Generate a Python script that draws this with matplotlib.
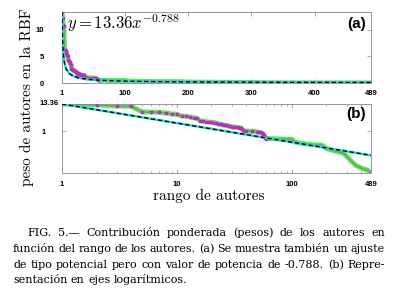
import matplotlib
matplotlib.use("Agg")
import matplotlib.pyplot as plt
import numpy as np

plt.rcParams['mathtext.fontset'] = 'cm'

# rank of author and weighted contribution
rank = [1, 2, 3, 4, 5, 6, 7, 8, 9, 10, 11, 12, 13, 14, 15, 16, 17, 18, 19, 20,
        21, 22, 23, 24, 25, 26, 27, 28, 29, 30, 31, 32, 33, 34, 35, 36, 37, 38,
        39, 40, 45, 50, 51, 53, 55, 56, 57, 58, 59, 60, 62, 66, 80, 100, 106,
        120, 150, 183, 202, 230, 258, 285, 324, 358, 410, 456, 489]
weight = [13.36, 12.2, 11.0, 10.7, 6.3, 6.2, 6.1, 5.7, 5.2, 5.0, 4.3, 4.15, 3.9,
          3.67, 3.4, 2.7, 2.6, 2.5, 2.4, 2.35, 2.3, 2.2, 2.05, 1.95, 1.9, 1.8,
          1.75, 1.7, 1.6, 1.55, 1.5, 1.5, 1.48, 1.45, 1.43, 1.42, 1.2, 1.05,
          1.03, 1.02, 1.0, 0.95, 0.94, 0.9, 0.85, 0.8, 0.7, 0.6, 0.55, 0.5,
          0.5, 0.5, 0.48, 0.47, 0.36, 0.32, 0.28, 0.27, 0.19, 0.16, 0.14, 0.12,
          0.064, 0.04, 0.029, 0.025, 0.019]

# power-law fit shown in the figure
fit_a = 13.36
fit_b = -0.788
n_authors = 489

xticks_a = [1, 100, 200, 300, 400, 489]
yticks_a = [0, 5, 10]
xticks_b = [1, 10, 100, 489]

caption = ["FIG. 5.\u2014 Contribución ponderada (pesos) de los autores en",
           "función del rango de los autores. (a) Se muestra también un ajuste",
           "de tipo potencial pero con valor de potencia de -0.788. (b) Repre-",
           "sentación en ejes logarítmicos."]

W, H = 394, 288
fig = plt.figure(figsize=(W / 100, H / 100), dpi=100)

ax1 = fig.add_axes([62 / W, 1 - 83 / H, 309 / W, 71 / H])
ax2 = fig.add_axes([62 / W, 1 - 173 / H, 309 / W, 69 / H])

r = np.array(rank)
w = np.array(weight)
xfit = np.arange(1, n_authors + 1)
yfit = fit_a * xfit ** fit_b
mk = r <= 60

tickfont = dict(family='Liberation Sans', weight='bold', size=5.5)
serif = ['cmr10', 'DejaVu Serif']

for ax in (ax1, ax2):
    ax.plot(r, w, color='#55ee44', lw=3.5, zorder=2)
    ax.plot(r, w, color='#888888', lw=1.0, zorder=3)
    ax.plot(r[mk], w[mk], ls='none', marker='s', ms=1.8, color='#ee22ee',
            mec='#cc22cc', zorder=4)
    ax.plot(xfit, yfit, color='#22dddd', lw=1.8, zorder=5)
    ax.plot(xfit, yfit, color='black', lw=1.0, ls=(0, (3, 2)), zorder=6)
    for s in ax.spines.values():
        s.set_color('#a090a8')
        s.set_linewidth(0.7)
        s.set_linestyle((0, (1, 1)))
    ax.tick_params(which='both', direction='in', top=True, right=True,
                   color='#999999', width=0.6)
    ax.tick_params(which='major', length=3)
    ax.tick_params(which='minor', length=1.5)

ax1.set_xlim(1, n_authors)
ax1.set_ylim(0, 13.36)
ax1.set_xticks(xticks_a)
ax1.set_xticklabels([str(t) for t in xticks_a], fontdict=tickfont)
ax1.set_yticks(yticks_a)
ax1.set_yticklabels([str(t) for t in yticks_a], fontdict=tickfont)
ax1.tick_params(axis='x', pad=5)
ax1.tick_params(axis='y', pad=13)
ax1.text(0.016, 0.76, r'$y = 13.36x^{-0.788}$', transform=ax1.transAxes,
         fontsize=12, va='baseline')
ax1.text(0.985, 0.93, '(a)', transform=ax1.transAxes, ha='right', va='top',
         fontsize=11, fontweight='bold', family='Liberation Sans')

ax2.set_xscale('log')
ax2.set_yscale('log')
ax2.set_xlim(1, n_authors)
ax2.set_ylim(0.019, 13.36)
ax2.set_xticks(xticks_b)
ax2.set_xticklabels([str(t) for t in xticks_b], fontdict=tickfont)
ax2.xaxis.set_minor_formatter(matplotlib.ticker.NullFormatter())
ax2.set_yticks([1, 13.36])
ax2.set_yticklabels(['1', ''], fontdict=tickfont)
ax2.yaxis.set_minor_locator(matplotlib.ticker.NullLocator())
ax2.tick_params(axis='x', pad=6)
ax2.tick_params(axis='y', pad=12)
ax2.text(-0.012, 13.36, '13.36', transform=ax2.get_yaxis_transform(),
         ha='right', va='center', **tickfont)
ax2.text(0.985, 0.95, '(b)', transform=ax2.transAxes, ha='right', va='top',
         fontsize=11, fontweight='bold', family='Liberation Sans')

fig.text(27 / W, 1 - 97 / H, 'peso de autores en la RBF', rotation=90,
         ha='center', va='center', fontsize=11, family=serif)
fig.text(209 / W, 1 - 196 / H, 'rango de autores', ha='center', va='center',
         fontsize=11, family=serif)

# caption, justified line by line
renderer = fig.canvas.get_renderer()
base_y = [236, 252, 268, 283]
starts = [27, 13, 13, 13]
right = 385
for i, line in enumerate(caption):
    words = line.split(' ')
    texts = [fig.text(0, 1 - base_y[i] / H, wd, fontsize=8.0,
                      family='DejaVu Serif', va='baseline') for wd in words]
    widths = [t.get_window_extent(renderer).width for t in texts]
    if i < len(caption) - 1:
        gap = (right - starts[i] - sum(widths)) / (len(words) - 1)
    else:
        gap = 3.5
    x = starts[i]
    for t, wd in zip(texts, widths):
        t.set_position((x / W, 1 - base_y[i] / H))
        x += wd + gap

fig.savefig('out.png', dpi=100)
